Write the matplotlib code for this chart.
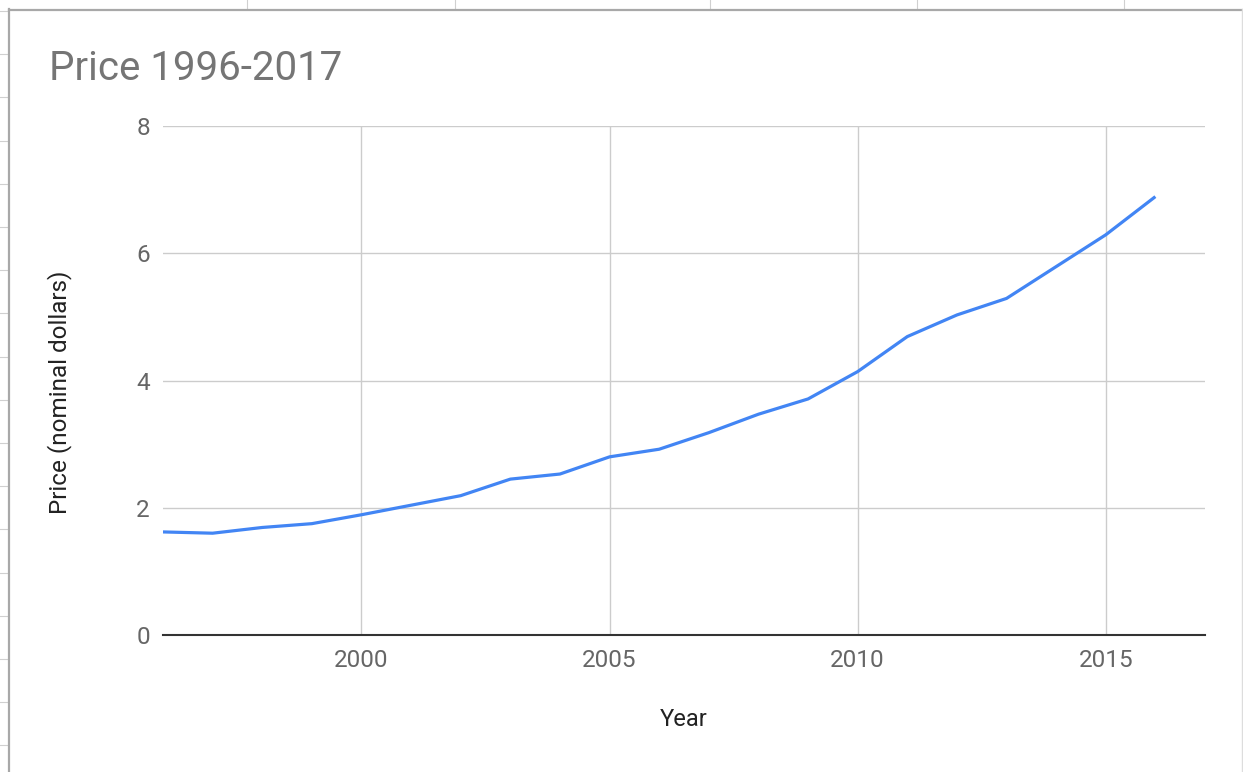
import numpy as np
import matplotlib.pyplot as plt
from matplotlib.lines import Line2D

plt.rcParams['font.family'] = ['Roboto', 'DejaVu Sans']

# price per year
years = [1996, 1997, 1998, 1999, 2000, 2001, 2002, 2003, 2004, 2005, 2006,
         2007, 2008, 2009, 2010, 2011, 2012, 2013, 2014, 2015, 2016]
price = [1.62, 1.60, 1.69, 1.75, 1.89, 2.04, 2.19, 2.45, 2.53, 2.80, 2.92,
         3.18, 3.47, 3.71, 4.14, 4.69, 5.03, 5.29, 5.79, 6.29, 6.89]

x_ticks = [2000, 2005, 2010, 2015]
y_ticks = [0, 2, 4, 6, 8]

W, H = 1243, 772
fig = plt.figure(figsize=(W / 100, H / 100), dpi=100)

# spreadsheet frame behind the chart
frame_c = '#a8a8a8'
cell_c = '#d0d0d0'
for cx in [247, 455, 710, 917, 1124]:
    fig.add_artist(Line2D([cx / W, cx / W], [1, 1 - 9 / H], color=cell_c, lw=0.8))
for k in range(18):
    ry = 11 + k * 43.2
    fig.add_artist(Line2D([0, 8 / W], [1 - ry / H, 1 - ry / H], color=cell_c, lw=0.8))
fig.add_artist(Line2D([9 / W, 9 / W], [0, 1 - 9 / H], color=frame_c, lw=1.6))
fig.add_artist(Line2D([9 / W, 1], [1 - 9.5 / H, 1 - 9.5 / H], color=frame_c, lw=1.6))
fig.add_artist(Line2D([1241.5 / W, 1241.5 / W], [0, 1 - 9 / H], color='#dddddd', lw=1.0))

ax = fig.add_axes([163 / W, 1 - 635 / H, (1205 - 163) / W, (635 - 126) / H])
ax.plot(years, price, color='#4285f4', lw=2.3, solid_capstyle='butt', zorder=3)

ax.set_xlim(1996, 2017)
ax.set_ylim(0, 8)
ax.set_xticks(x_ticks)
ax.set_yticks(y_ticks)
ax.grid(True, color='#cccccc', lw=1.0)
ax.set_axisbelow(True)
for s in ['top', 'right', 'left']:
    ax.spines[s].set_visible(False)
ax.spines['bottom'].set_color('#333333')
ax.spines['bottom'].set_linewidth(1.5)
ax.spines['bottom'].set_zorder(4)
ax.tick_params(length=0, labelsize=17.5, colors='#666666')
ax.tick_params(axis='x', pad=10)
ax.tick_params(axis='y', pad=9.5)

fig.text(49 / W, 1 - 68 / H, 'Price 1996-2017', fontsize=29, color='#757575',
         ha='left', va='center')
fig.text(684 / W, 1 - 719 / H, 'Year', fontsize=17, color='#222222',
         ha='center', va='center')
fig.text(60 / W, 1 - 392 / H, 'Price (nominal dollars)', fontsize=17.5,
         color='#222222', ha='center', va='center', rotation=90)

fig.savefig('out.png', dpi=100, facecolor='white')
